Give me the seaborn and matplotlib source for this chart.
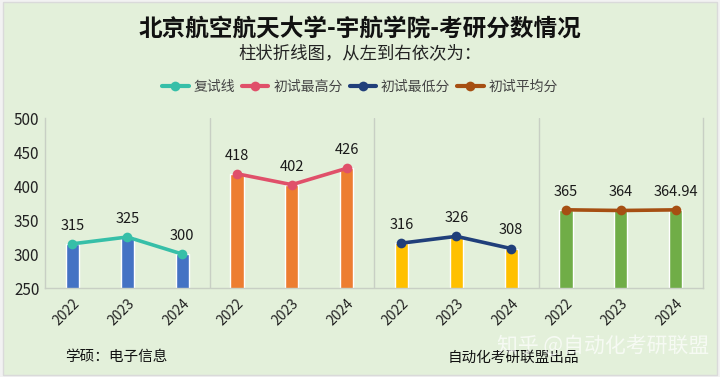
import matplotlib.pyplot as plt
import matplotlib.patches as mpatches
from matplotlib.lines import Line2D
import seaborn as sns
import pandas as pd

years = ['2022', '2023', '2024']
groups = ['复试线', '初试最高分', '初试最低分', '初试平均分']
retest_line = [315, 325, 300]
max_score = [418, 402, 426]
min_score = [316, 326, 308]
avg_score = [365, 364, 364.94]
value_labels = [['315', '325', '300'], ['418', '402', '426'],
                ['316', '326', '308'], ['365', '364', '364.94']]

bar_colors = ['#4472C4', '#ED7D31', '#FFC000', '#70AD47']
line_colors = ['#36BFA8', '#E0506A', '#203F7A', '#A64F12']
bg = '#E3F0DA'

rows = []
for gi, vals in enumerate([retest_line, max_score, min_score, avg_score]):
    for yi, v in enumerate(vals):
        rows.append({'pos': gi * 3 + yi, 'year': years[yi], 'group': groups[gi], 'score': v})
df = pd.DataFrame(rows)

sns.set_theme(style='white')
plt.rcParams['font.family'] = ['Noto Sans CJK SC', 'DejaVu Sans']

fig = plt.figure(figsize=(7.2, 3.77), dpi=100)
fig.patch.set_facecolor('#F2F2F2')
fig.add_artist(mpatches.Rectangle((0.004, 0.006), 0.992, 0.988, transform=fig.transFigure,
                                  facecolor=bg, edgecolor='#DADADA', lw=1, zorder=-10))
ax = fig.add_axes([0.0625, 0.236, 0.914, 0.451])
ax.set_facecolor(bg)

sns.barplot(data=df, x='pos', y='score', hue='group', palette=bar_colors, dodge=False,
            width=0.24, saturation=1, legend=False, ax=ax, native_scale=True)

for gi, g in enumerate(groups):
    sub = df[df['group'] == g]
    sns.lineplot(data=sub, x='pos', y='score', color=line_colors[gi], lw=2.6,
                 marker='o', markersize=7, markeredgewidth=0, ax=ax, legend=False, zorder=5)
    for k, (_, r) in enumerate(sub.iterrows()):
        ax.annotate(value_labels[gi][k], (r['pos'], r['score']), xytext=(0, 8),
                    textcoords='offset points', ha='center', va='bottom',
                    fontsize=10.5, color='#1a1a1a')

ax.set_ylim(250, 500)
ax.set_xlim(-0.5, 11.5)
ax.set_yticks([250, 300, 350, 400, 450, 500])
ax.tick_params(axis='y', labelsize=11, colors='#222222', length=0, pad=4)
ax.set_xticks(range(12))
ax.set_xticklabels(years * 4, rotation=45, ha='right', rotation_mode='anchor',
                   fontsize=10, color='#222222')
ax.tick_params(axis='x', length=0, pad=6)
ax.set_xlabel('')
ax.set_ylabel('')

ax.spines['top'].set_visible(False)
for s in ['left', 'right', 'bottom']:
    ax.spines[s].set_color('#C8CFC4')
    ax.spines[s].set_linewidth(1)
for xs in [2.5, 5.5, 8.5]:
    ax.axvline(xs, color='#C8CFC4', lw=1, zorder=0)

fig.text(0.5, 0.925, '北京航空航天大学-宇航学院-考研分数情况', ha='center', va='center',
         fontsize=17, fontweight='bold', color='#111111')
fig.text(0.5, 0.86, '柱状折线图，从左到右依次为：', ha='center', va='center',
         fontsize=12.5, color='#222222')

handles = [Line2D([0], [0], color=c, lw=3, marker='o', markersize=7, markeredgewidth=0)
           for c in line_colors]
fig.legend(handles, groups, loc='center', bbox_to_anchor=(0.5, 0.77), ncol=4,
           frameon=False, fontsize=10, handlelength=1.9, columnspacing=0.5,
           handletextpad=0.35, labelcolor='#444444')

fig.text(0.09, 0.052, '学硕：电子信息', ha='left', va='center', fontsize=10.5, color='#111111')
fig.text(0.622, 0.052, '自动化考研联盟出品', ha='left', va='center', fontsize=10.5, color='#111111')
fig.text(0.985, 0.08, '知乎 @自动化考研联盟', ha='right', va='center', fontsize=15,
         color='white', alpha=0.7)

fig.savefig('out.png', dpi=100, facecolor=fig.get_facecolor())
